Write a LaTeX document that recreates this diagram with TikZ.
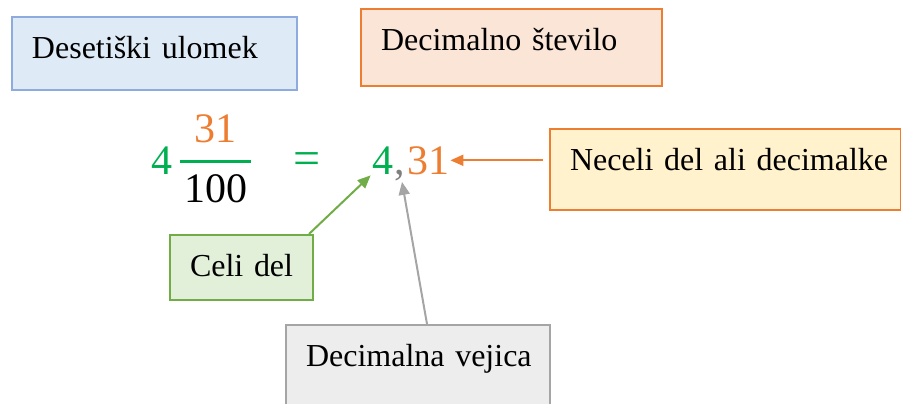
\documentclass[tikz,border=0pt]{standalone}
\usepackage{fontspec}
\setmainfont{Liberation Serif}
\usepackage{tikz}
\usetikzlibrary{arrows.meta}

\definecolor{boxblue}{HTML}{DEEBF7}
\definecolor{lineblue}{HTML}{8FAADC}
\definecolor{boxpeach}{HTML}{FBE5D6}
\definecolor{lineorange}{HTML}{ED7D31}
\definecolor{boxyellow}{HTML}{FFF2CC}
\definecolor{boxgreen}{HTML}{E2F0D9}
\definecolor{linegreen}{HTML}{70AD47}
\definecolor{boxgrey}{HTML}{EDEDED}
\definecolor{linegrey}{HTML}{A5A5A5}
\definecolor{numgreen}{HTML}{00B050}
\definecolor{commagrey}{HTML}{7F7F7F}

\begin{document}
\begin{tikzpicture}[x=0.5pt, y=-0.5pt,
  wbox/.style n args={3}{draw=#1, fill=#2, line width=1pt, anchor=north west,
    inner xsep=10pt, inner ysep=0pt, text height=20.5pt, text depth=#3,
    align=left, font=\fontsize{16}{19}\selectfont},
  digits/.style={inner sep=0.5pt, anchor=base, font=\fontsize{21}{25}\selectfont},
  pointer/.style={line width=1pt, -{Triangle[length=6.5pt, width=5.5pt]}}]

  \useasboundingbox (0,0) rectangle (901,403);

  \node[wbox={lineblue}{boxblue}{16pt}, text width=122.5pt] (ulomek) at (11,16) {\mbox{Desetiški ulomek}};
  \node[wbox={lineorange}{boxpeach}{18pt}, text width=130.5pt] (stevilo) at (360,8) {\mbox{Decimalno število}};
  \node[wbox={lineorange}{boxyellow}{20pt}, text width=155.5pt] (neceli) at (549,128) {\mbox{Neceli del ali decimalke}};
  \node[wbox={linegreen}{boxgreen}{12pt}, text width=51.5pt] (celi) at (169,234) {\mbox{Celi del}};
  \node[wbox={linegrey}{boxgrey}{22.5pt}, text width=112pt] (vejica) at (285,324) {\mbox{Decimalna vejica}};

  % mixed number
  \node[digits, numgreen] (whole) at (161.5,174) {4};
  \node[digits, lineorange] (num) at (215,142) {31};
  \node[digits] (den) at (216,202) {100};
  \draw[numgreen, line width=1.5pt] (180,161) -- (251,161);
  \node[digits, numgreen, font=\fontsize{24}{28}\selectfont] (eq) at (307,174) {=};

  % decimal number
  \node[digits, numgreen] (dint) at (382.5,174) {4};
  \node[digits, commagrey] (dcomma) at (400,174) {,};
  \node[digits, lineorange] (dfrac) at (428,174) {31};

  \draw[pointer, lineorange, shorten <=3pt] (neceli.west |- dfrac.east) -- (dfrac.east);
  \draw[pointer, linegreen] ([xshift=-2.5pt]celi.north east) -- (dint.south west);
  \draw[pointer, linegrey] ([xshift=4.5pt]vejica.north) -- ([xshift=1pt]dcomma.south);
\end{tikzpicture}
\end{document}
